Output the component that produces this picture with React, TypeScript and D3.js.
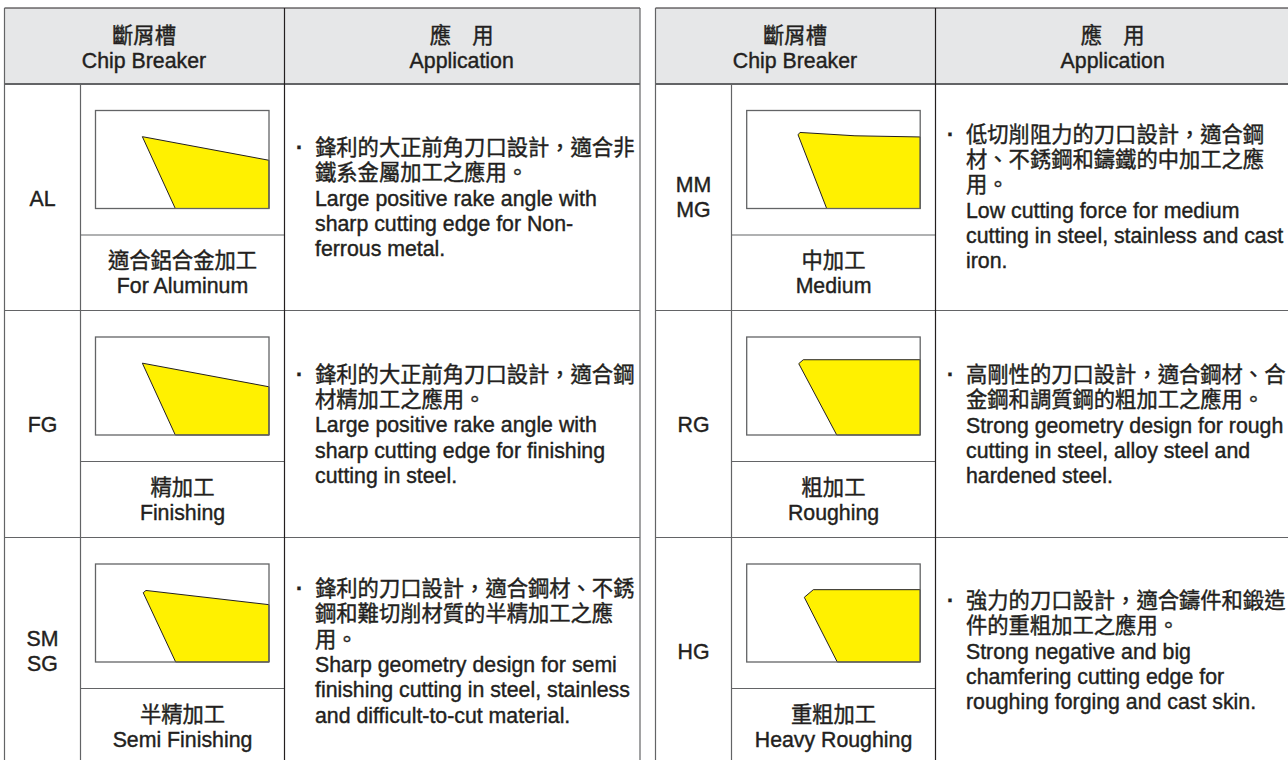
import * as d3 from "d3";

const W = 1288;
const H = 760;
const FONT = '"Liberation Sans", "Noto Sans CJK TC", sans-serif';
const INK = "#231f20";
const RULE = "#636466";
const HEADER_FILL = "#e6e7e8";
const YELLOW = "#fff100";

// Chart content
const headerChip = ["斷屑槽", "Chip Breaker"];
const headerApp = ["應　用", "Application"];

const codesLeft = [["AL"], ["FG"], ["SM", "SG"]];
const codesRight = [["MM", "MG"], ["RG"], ["HG"]];

const usesLeft = [
  ["適合鋁合金加工", "For Aluminum"],
  ["精加工", "Finishing"],
  ["半精加工", "Semi Finishing"],
];
const usesRight = [
  ["中加工", "Medium"],
  ["粗加工", "Roughing"],
  ["重粗加工", "Heavy Roughing"],
];

const notesLeft = [
  [
    "鋒利的大正前角刀口設計，適合非",
    "鐵系金屬加工之應用。",
    "Large positive rake angle with",
    "sharp cutting edge for Non-",
    "ferrous metal.",
  ],
  [
    "鋒利的大正前角刀口設計，適合鋼",
    "材精加工之應用。",
    "Large positive rake angle with",
    "sharp cutting edge for finishing",
    "cutting in steel.",
  ],
  [
    "鋒利的刀口設計，適合鋼材、不銹",
    "鋼和難切削材質的半精加工之應",
    "用。",
    "Sharp geometry design for semi",
    "finishing cutting in steel, stainless",
    "and difficult-to-cut material.",
  ],
];
const notesRight = [
  [
    "低切削阻力的刀口設計，適合鋼",
    "材、不銹鋼和鑄鐵的中加工之應",
    "用。",
    "Low cutting force for medium",
    "cutting in steel, stainless and cast",
    "iron.",
  ],
  [
    "高剛性的刀口設計，適合鋼材、合",
    "金鋼和調質鋼的粗加工之應用。",
    "Strong geometry design for rough",
    "cutting in steel, alloy steel and",
    "hardened steel.",
  ],
  [
    "強力的刀口設計，適合鑄件和鍛造",
    "件的重粗加工之應用。",
    "Strong negative and big",
    "chamfering cutting edge for",
    "roughing forging and cast skin.",
  ],
];

// Insert profiles, percent of the little frame (x across, y down)
const profilesLeft: [number, number][][] = [
  [[27, 26.7], [100, 50.8], [100, 100], [46, 100]],
  [[27, 26.7], [100, 50.8], [100, 100], [46, 100]],
  [[27.5, 29.3], [29.1, 27], [100, 41.5], [100, 100], [46.2, 100]],
];
const profilesRight: [number, number][][] = [
  [[29.6, 24.8], [30.7, 22.4], [62.4, 25.8], [100, 27], [100, 100], [46.1, 100]],
  [[30, 27.2], [32.6, 23.2], [100, 23.2], [100, 100], [51.9, 100]],
  [[33.2, 34], [38.4, 26.2], [100, 26.2], [100, 100], [52.2, 100]],
];

// Layout
const TOP = 8;
const HEAD_BOTTOM = 84;
const ROW_TOPS = [84, 310.5, 537.5];
const ROW_H = 226.5;
const SUB_OFFSET = 151;
const FRAME_OFFSET = 26.5;
const FRAME_H = 98;
const FRAME_W = 173.5;
const LINE_GAP = 25.3;
const FS = 21.3;

const LEFT_TABLE = {
  x0: 4.5, x1: 80.5, x2: 284.5, x3: 640, frame: 95.5, text: 315,
  noteBase: [155, 381.7, 596], codeBase: [205.5, 432, 646],
};
const RIGHT_TABLE = {
  x0: 655.5, x1: 731.5, x2: 935.5, x3: 1300, frame: 746.7, text: 966,
  noteBase: [141.7, 382, 608], codeBase: [192, 432, 659],
};

type TableProps = {
  t: typeof LEFT_TABLE;
  codes: string[][];
  uses: string[][];
  notes: string[][];
  profiles: [number, number][][];
  headCenterApp: number;
};

function Label({ x, y, lines }: { x: number; y: number; lines: string[] }) {
  return (
    <>
      {lines.map((s, i) => (
        <text key={i} x={x} y={y + i * LINE_GAP} textAnchor="middle">
          {s}
        </text>
      ))}
    </>
  );
}

function Table({ t, codes, uses, notes, profiles, headCenterApp }: TableProps) {
  const bottom = ROW_TOPS[2] + ROW_H;
  return (
    <g>
      <rect x={t.x0} y={TOP} width={t.x3 - t.x0} height={HEAD_BOTTOM - TOP} fill={HEADER_FILL} />
      <Label x={(t.x0 + t.x2) / 2 - 0.5} y={43} lines={headerChip} />
      <Label x={headCenterApp} y={43} lines={headerApp} />

      {ROW_TOPS.map((top, i) => {
        const fx = d3.scaleLinear().domain([0, 100]).range([t.frame, t.frame + FRAME_W]);
        const fy = d3.scaleLinear().domain([0, 100]).range([top + FRAME_OFFSET, top + FRAME_OFFSET + FRAME_H]);
        const path = d3.line<[number, number]>().x((d) => fx(d[0])).y((d) => fy(d[1]));
        const subY = top + SUB_OFFSET;
        return (
          <g key={i}>
            <path
              d={`${path(profiles[i])}Z`}
              fill={YELLOW}
              stroke={INK}
              strokeWidth={1}
              strokeLinejoin="round"
            />
            <rect x={t.frame} y={fy(0)} width={FRAME_W} height={FRAME_H} fill="none" stroke={RULE} strokeWidth={1.3} />
            <Label x={(t.x0 + t.x1) / 2} y={t.codeBase[i]} lines={codes[i]} />
            <Label x={(t.x1 + t.x2) / 2} y={subY + 33} lines={uses[i]} />
            <line x1={t.x1} x2={t.x2} y1={subY} y2={subY} stroke={RULE} strokeWidth={1.2} />
            <line x1={t.x0} x2={t.x3} y1={top} y2={top} stroke={RULE} strokeWidth={i === 0 ? 1.8 : 1.2} />
            <text x={t.text - 19} y={t.noteBase[i]} fontWeight={700}>
              ·
            </text>
            {notes[i].map((s, j) => (
              <text key={j} x={t.text} y={t.noteBase[i] + j * LINE_GAP}>
                {s}
              </text>
            ))}
          </g>
        );
      })}

      <line x1={t.x0} x2={t.x3} y1={TOP} y2={TOP} stroke={INK} strokeWidth={1.2} />
      <line x1={t.x0} x2={t.x0} y1={TOP} y2={bottom} stroke={RULE} strokeWidth={1.2} />
      <line x1={t.x2} x2={t.x2} y1={TOP} y2={bottom} stroke={INK} strokeWidth={1.2} />
      <line x1={t.x3} x2={t.x3} y1={TOP} y2={bottom} stroke={RULE} strokeWidth={1.2} />
      <line x1={t.x1} x2={t.x1} y1={HEAD_BOTTOM} y2={bottom} stroke={RULE} strokeWidth={1.2} />
    </g>
  );
}

export default function App() {
  return (
    <svg
      width={W}
      height={H}
      viewBox={`0 0 ${W} ${H}`}
      style={{ position: "absolute", left: 0, top: 0, display: "block", background: "#fff" }}
      fontFamily={FONT}
      fontSize={FS}
      fill={INK}
      stroke="none"
    >
      <Table t={LEFT_TABLE} codes={codesLeft} uses={usesLeft} notes={notesLeft} profiles={profilesLeft} headCenterApp={461.7} />
      <Table t={RIGHT_TABLE} codes={codesRight} uses={usesRight} notes={notesRight} profiles={profilesRight} headCenterApp={1112.7} />
      <style>{`text { stroke: ${INK}; stroke-width: 0.4px; }`}</style>
    </svg>
  );
}
